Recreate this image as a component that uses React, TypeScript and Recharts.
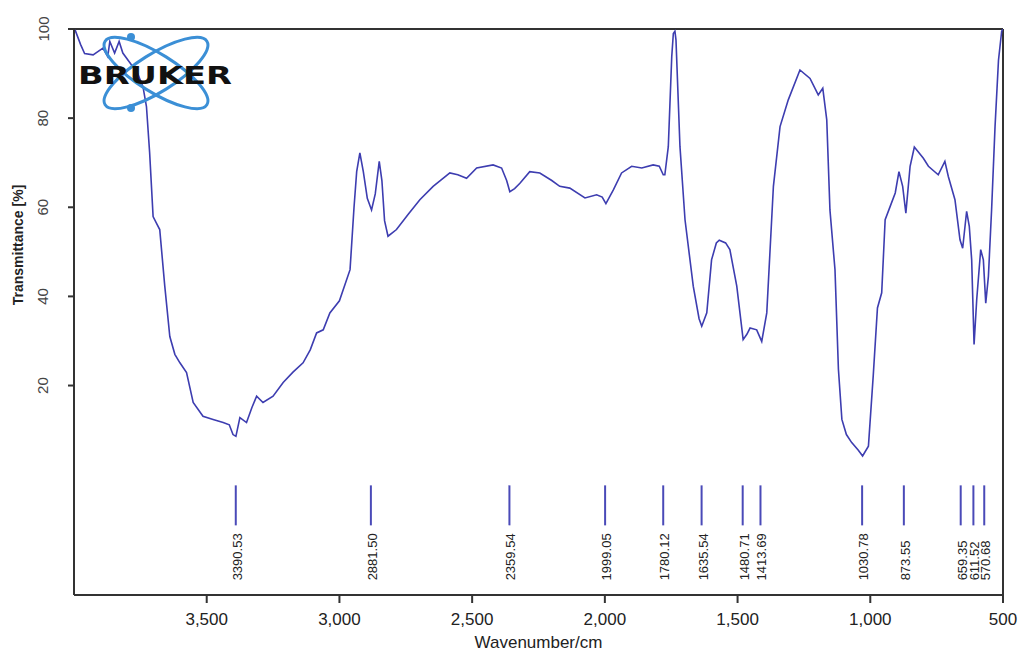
import React from 'react';
import {
  ComposedChart,
  Line,
  Scatter,
  XAxis,
  YAxis,
  ReferenceLine,
} from 'recharts';

// IR spectrum, wavenumber (cm-1) vs transmittance (%)
const wavenumbers = [
  3996, 3975, 3960, 3928, 3891, 3873, 3865, 3847, 3830, 3816, 3790, 3760, 3740, 3727, 3715, 3702,
  3690, 3677, 3658, 3639, 3620, 3601, 3576, 3551, 3514, 3476, 3438, 3415, 3401, 3390, 3375, 3350,
  3330, 3312, 3288, 3250, 3212, 3175, 3137, 3110, 3086, 3061, 3036, 3000, 2960, 2945, 2935, 2923,
  2910, 2895, 2879, 2865, 2850, 2840, 2830, 2817, 2785, 2740, 2697, 2647, 2584, 2554, 2521, 2483,
  2421, 2389, 2370, 2358, 2340, 2320, 2283, 2245, 2200, 2170, 2132, 2075, 2031, 2010, 1996, 1968,
  1937, 1899, 1861, 1818, 1795, 1780, 1774, 1761, 1748, 1742, 1736, 1732, 1717, 1698, 1667, 1645,
  1635, 1616, 1598, 1580, 1569, 1545, 1529, 1503, 1479, 1465, 1453, 1428, 1409, 1390, 1365, 1340,
  1309, 1265, 1227, 1196, 1179, 1164, 1152, 1133, 1120, 1107, 1090, 1070, 1045, 1029, 1007, 989,
  973, 957, 944, 925, 906, 892, 878, 866, 850, 834, 800, 781, 744, 719, 706, 681,
  662, 652, 637, 627, 618, 609, 599, 584, 574, 565, 555, 543, 530, 517, 505, 500,
];

const transmittance = [
  99.8, 96.5, 94.5, 94.2, 95.7, 93.8, 97.2, 94.6, 97.2, 94.6, 92.5, 90, 87, 82.6, 72.2, 57.9,
  56.5, 55, 42.3, 31, 27, 25.1, 22.9, 16.2, 13.1, 12.4, 11.7, 11.2, 9.0, 8.6, 12.8, 11.7,
  15, 17.6, 16.2, 17.6, 20.7, 23, 25.1, 28, 31.8, 32.5, 36.3, 39, 46, 60, 68, 72.2,
  68, 62, 59.4, 63, 70.3, 66, 57, 53.5, 55, 58.5, 61.7, 64.7, 67.7, 67.3, 66.5, 68.8,
  69.5, 68.8, 66, 63.5, 64.2, 65.4, 68.0, 67.7, 66, 64.7, 64.3, 62.1, 62.8, 62.3, 60.8, 63.9,
  67.7, 69.2, 68.8, 69.5, 69.2, 67.3, 67.3, 73.6, 93.8, 99.0, 99.5, 97.5, 73.6, 57.2, 42.3, 35,
  33.3, 36.3, 48.2, 52, 52.6, 52, 50.5, 42.3, 30.3, 31.5, 32.9, 32.5, 29.9, 36.3, 64.7, 78.1,
  84.1, 90.8, 88.9, 85.2, 86.7, 79.6, 59.4, 46, 23.6, 12.4, 9, 7.2, 5.5, 4.2, 6.4, 22.1,
  37.4, 40.8, 57.2, 60.2, 63.2, 68, 64.7, 58.7, 69.2, 73.5, 71.0, 69.2, 67.3, 70.3, 66.9, 61.7,
  52.7, 50.8, 59.1, 55.7, 48.2, 29.2, 39.3, 50.5, 48.2, 38.5, 44.5, 59.4, 78.1, 93, 99.5, 100,
];

// picked peaks
const peaks = [
  3390.53, 2881.5, 2359.54, 1999.05, 1780.12, 1635.54, 1480.71, 1413.69, 1030.78, 873.55, 659.35,
  611.52, 570.68,
];

const xTicks = [3500, 3000, 2500, 2000, 1500, 1000, 500];
const yTicks = [20, 40, 60, 80, 100];

const STICK_TOP = -2.4;

const spectrum = wavenumbers.map((w, i) => ({ w, t: transmittance[i] }));
const peakData = peaks.map((w) => ({ w, t: STICK_TOP }));

const LINE = '#3d3db0';
const AXIS = '#333';

const PeakMark = (props: any) => {
  const { cx, cy, payload } = props;
  if (cx == null || cy == null) return null;
  const label = payload.w.toFixed(2);
  const ty = cy + 95;
  return (
    <g>
      <line x1={cx} y1={cy} x2={cx} y2={cy + 40} stroke="#4a4ab8" strokeWidth={2} />
      <text
        x={cx + 6}
        y={ty}
        transform={`rotate(-90, ${cx + 6}, ${ty})`}
        textAnchor="start"
        fontSize={13}
        fontFamily="Liberation Sans, Arial, sans-serif"
        fill="#222"
      >
        {label}
      </text>
    </g>
  );
};

const YTick = (props: any) => {
  const { y, payload } = props;
  return (
    <text
      x={43}
      y={y}
      transform={`rotate(-90, 43, ${y})`}
      textAnchor="middle"
      dominantBaseline="central"
      fontSize={15}
      fontFamily="Liberation Sans, Arial, sans-serif"
      fill="#444"
    >
      {payload.value}
    </text>
  );
};

const YTitle = () => (
  <text
    x={18}
    y={245}
    transform="rotate(-90, 18, 245)"
    textAnchor="middle"
    dominantBaseline="central"
    fontSize={14}
    fontWeight="bold"
    fontFamily="Liberation Sans, Arial, sans-serif"
    fill="#222"
  >
    Transmittance [%]
  </text>
);

const BrukerLogo = () => (
  <svg
    width={1021}
    height={653}
    style={{ position: 'absolute', left: 0, top: 0, pointerEvents: 'none' }}
  >
    <g fill="none" stroke="#3b8fd6" strokeWidth={3}>
      <ellipse cx={156} cy={73} rx={60} ry={19} transform="rotate(32, 156, 73)" />
      <ellipse cx={156} cy={73} rx={60} ry={19} transform="rotate(-32, 156, 73)" />
    </g>
    <circle cx={131} cy={37} r={4} fill="#3b8fd6" />
    <circle cx={131} cy={108} r={4} fill="#3b8fd6" />
    <text
      x={78}
      y={84}
      fontSize={25}
      fontWeight="bold"
      fontFamily="DejaVu Sans, sans-serif"
      textLength={154}
      lengthAdjust="spacingAndGlyphs"
      fill="#111"
    >
      BRUKER
    </text>
  </svg>
);

const App = () => {
  return (
    <div style={{ position: 'absolute', left: 0, top: 0, width: 1021, height: 653, background: '#fff' }}>
      <ComposedChart
        width={1021}
        height={653}
        data={spectrum}
        margin={{ top: 29, right: 18, bottom: 0, left: 0 }}
      >
        <XAxis
          dataKey="w"
          type="number"
          domain={[500, 4000]}
          reversed
          ticks={xTicks}
          allowDataOverflow
          height={58}
          stroke={AXIS}
          strokeWidth={2}
          tickSize={8}
          tickMargin={10}
          tickFormatter={(v: number) => v.toLocaleString('en-US')}
          tick={{ fontSize: 17, fill: '#222', fontFamily: 'Liberation Sans, Arial, sans-serif' }}
          label={{
            value: 'Wavenumber/cm',
            position: 'insideBottom',
            offset: 5,
            fontSize: 17,
            fill: '#222',
            fontFamily: 'Liberation Sans, Arial, sans-serif',
          }}
        />
        <YAxis
          type="number"
          domain={[-27, 100]}
          ticks={yTicks}
          allowDataOverflow
          width={74}
          stroke={AXIS}
          strokeWidth={2}
          tickSize={6}
          tick={<YTick />}
          label={<YTitle />}
        />
        <ReferenceLine y={100} stroke={AXIS} strokeWidth={2} />
        <ReferenceLine x={500} stroke={AXIS} strokeWidth={2} />
        <Line
          data={spectrum}
          dataKey="t"
          type="linear"
          stroke={LINE}
          strokeWidth={1.6}
          dot={false}
          isAnimationActive={false}
        />
        <Scatter data={peakData} dataKey="t" shape={<PeakMark />} isAnimationActive={false} />
      </ComposedChart>
      <BrukerLogo />
    </div>
  );
};

export default App;
